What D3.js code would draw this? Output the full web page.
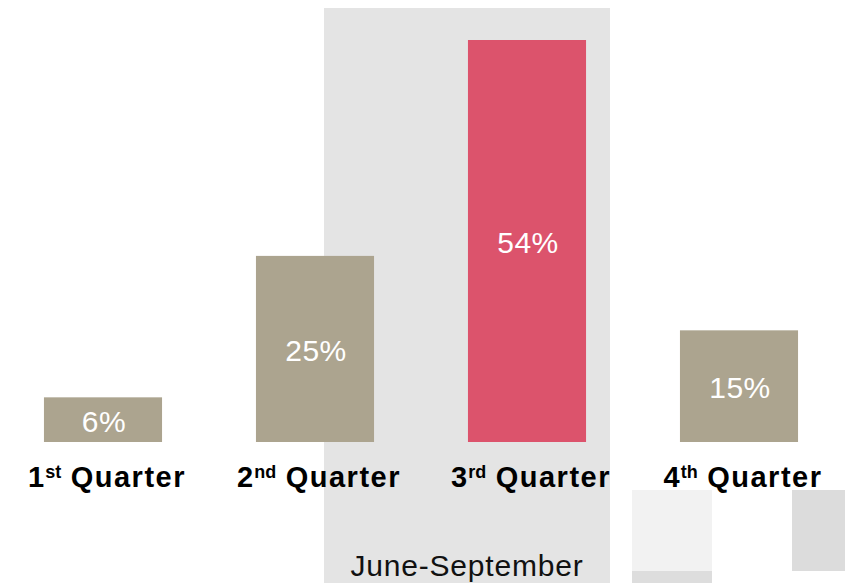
<!DOCTYPE html>
<html>
<head>
<meta charset="utf-8">
<script src="https://cdn.jsdelivr.net/npm/d3@7"></script>
<style>
  body { margin: 0; background: #fff; }
  svg { display: block; font-family: Arial, "Liberation Sans", sans-serif; }
</style>
</head>
<body>
<svg id="chart"></svg>
<script>
// data
const quarters = ['1', '2', '3', '4'];
const suffixes = ['st', 'nd', 'rd', 'th'];
const shares = [6, 25, 54, 15];
const highlight = '3';
const bandLabel = 'June-September';

const width = 845, height = 583;
const baseline = 442, plotTop = 40;

const svg = d3.select('#chart')
    .attr('width', width)
    .attr('height', height);

const x = d3.scaleBand()
    .domain(quarters)
    .range([-3, 845])
    .paddingInner(0.443)
    .paddingOuter(0.2215);

const y = d3.scaleLinear()
    .domain([0, d3.max(shares)])
    .range([baseline, plotTop]);

// shaded season band behind the 3rd quarter
svg.append('rect')
    .attr('x', 324).attr('y', 8)
    .attr('width', 286).attr('height', height - 8)
    .attr('fill', '#e4e4e4');

svg.append('text')
    .attr('x', 467)
    .attr('y', 576)
    .attr('text-anchor', 'middle')
    .attr('font-size', 30)
    .attr('letter-spacing', 0.8)
    .attr('fill', '#111')
    .text(bandLabel);

// leftover boxes bottom right
svg.append('rect').attr('x', 632).attr('y', 490).attr('width', 80).attr('height', 93).attr('fill', '#f2f2f2');
svg.append('rect').attr('x', 632).attr('y', 571).attr('width', 80).attr('height', 12).attr('fill', '#dddddd');
svg.append('rect').attr('x', 792).attr('y', 490).attr('width', 60).attr('height', 81).attr('fill', '#dcdcdc');

const rows = quarters.map((q, i) => ({ q: q, suf: suffixes[i], v: shares[i] }));

svg.selectAll('rect.bar')
    .data(rows)
    .enter()
    .append('rect')
    .attr('class', 'bar')
    .attr('x', d => x(d.q))
    .attr('y', d => y(d.v))
    .attr('width', x.bandwidth())
    .attr('height', d => baseline - y(d.v))
    .attr('fill', d => d.q === highlight ? '#dc536c' : '#aca48f');

svg.selectAll('text.value')
    .data(rows)
    .enter()
    .append('text')
    .attr('class', 'value')
    .attr('x', d => x(d.q) + x.bandwidth() / 2 + 1)
    .attr('y', d => (y(d.v) + baseline) / 2 + 12)
    .attr('text-anchor', 'middle')
    .attr('font-size', 30)
    .attr('letter-spacing', 0.5)
    .attr('fill', '#fff')
    .text(d => d.v + '%');

const labels = svg.selectAll('text.cat')
    .data(rows)
    .enter()
    .append('text')
    .attr('class', 'cat')
    .attr('x', d => x(d.q) + x.bandwidth() / 2 + 4)
    .attr('y', 487)
    .attr('text-anchor', 'middle')
    .attr('font-size', 29)
    .attr('font-weight', 'bold')
    .attr('fill', '#000');

labels.append('tspan').text(d => d.q);
labels.append('tspan')
    .attr('font-size', 18)
    .attr('dy', -9)
    .attr('dx', 1)
    .text(d => d.suf);
labels.append('tspan')
    .attr('dy', 9)
    .attr('letter-spacing', 1.5)
    .text(d => ' Quarter');
</script>
</body>
</html>
